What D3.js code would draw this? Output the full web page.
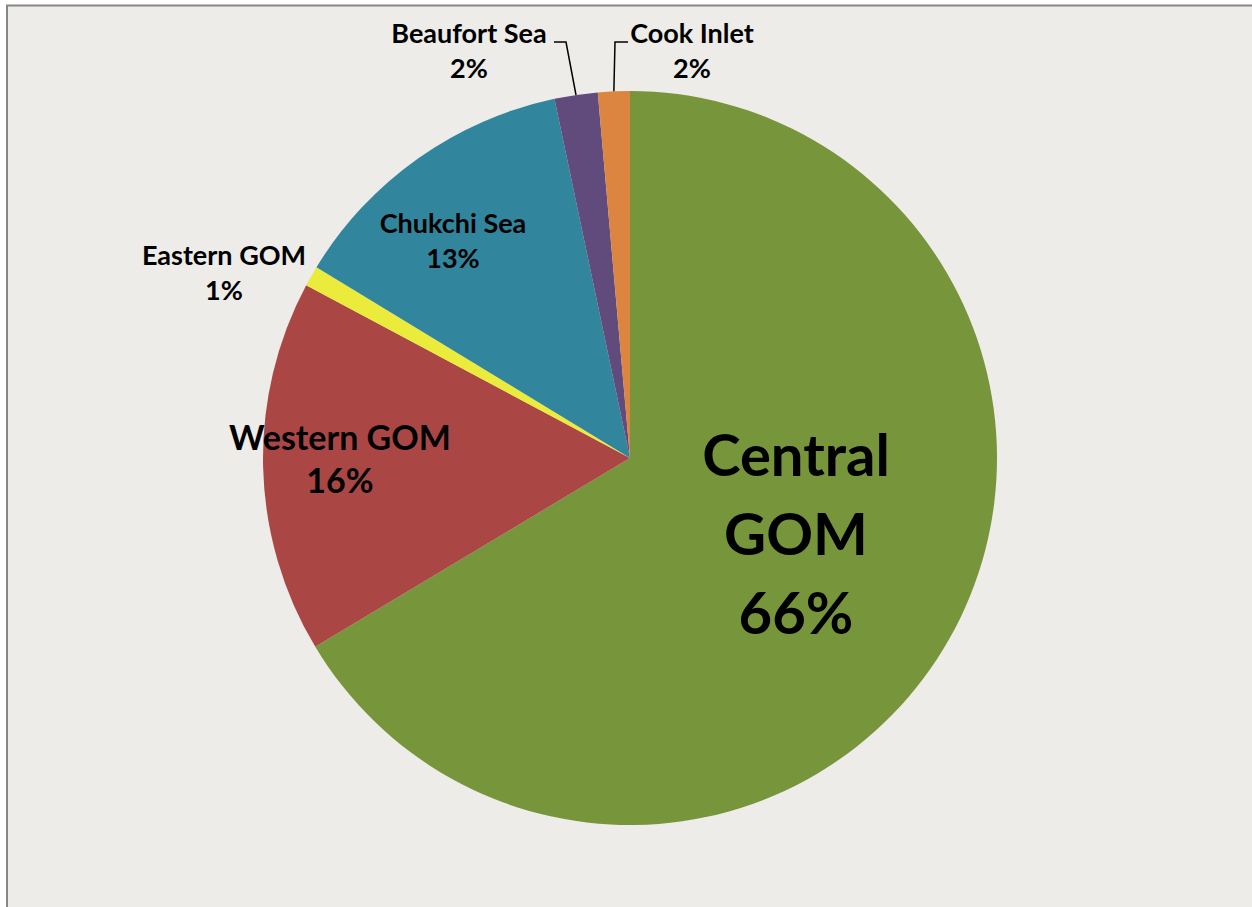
<!DOCTYPE html>
<html>
<head>
<meta charset="utf-8">
<script src="https://cdn.jsdelivr.net/npm/d3@7"></script>
<style>
    body { margin: 0; background: #fff; }
    text { font-family: Lato, "Open Sans", sans-serif; font-weight: bold; fill: #000; }
</style>
</head>
<body>
<div class="chart"></div>
<script>
// shares (percent)
var regions = ["Central GOM", "Western GOM", "Eastern GOM", "Chukchi Sea", "Beaufort Sea", "Cook Inlet"];
var shares = [66.4, 16.4, 0.9, 13.0, 1.9, 1.4];
var pctLabels = ["66%", "16%", "1%", "13%", "2%", "2%"];
var colors = ["#77953B", "#AA4745", "#EBEB3B", "#31869D", "#614B7C", "#DC8541"];

var width = 1252, height = 907;
var cx = 630, cy = 458, radius = 367;

// label layout: centre x, first baseline y, line step, font size, text lines
var labelLayout = [
    {x: 796, y: 476, step: 79, size: 58, lines: ["Central", "GOM", "66%"]},
    {x: 340, y: 450, step: 43, size: 34, lines: ["Western GOM", "16%"]},
    {x: 224, y: 265, step: 35, size: 27, lines: ["Eastern GOM", "1%"]},
    {x: 453, y: 233, step: 35, size: 27, lines: ["Chukchi Sea", "13%"]},
    {x: 469, y: 43, step: 35, size: 27, lines: ["Beaufort Sea", "2%"]},
    {x: 692, y: 43, step: 35, size: 27, lines: ["Cook Inlet", "2%"]}
];
// leader lines: elbow point and end of the short horizontal stub
var leaders = {
    4: {elbow: [566, 42], end: [554, 42]},
    5: {elbow: [615, 42], end: [628, 42]}
};

var svg = d3.select(".chart").append("svg")
    .attr("width", width)
    .attr("height", height);

svg.append("rect")
    .attr("x", 7)
    .attr("y", 5.5)
    .attr("width", width + 10)
    .attr("height", height + 10)
    .attr("fill", "#EDECE8")
    .attr("stroke", "#868686")
    .attr("stroke-width", 2);

var data = regions.map(function(r, i) {
    return {name: r, value: shares[i], pct: pctLabels[i], color: colors[i]};
});

var pie = d3.pie()
    .sort(null)
    .value(function(d) { return d.value; });

var arc = d3.arc()
    .innerRadius(0)
    .outerRadius(radius);

var arcs = pie(data);

var g = svg.append("g")
    .attr("transform", "translate(" + cx + "," + cy + ")");

g.selectAll("path.slice")
    .data(arcs)
    .enter().append("path")
    .attr("class", "slice")
    .attr("d", arc)
    .attr("fill", function(d) { return d.data.color; });

// leader lines from slice mid-angle at the rim
arcs.forEach(function(d, i) {
    if (!leaders[i]) return;
    var a = (d.startAngle + d.endAngle) / 2;
    var p0 = [cx + radius * Math.sin(a), cy - radius * Math.cos(a)];
    svg.append("polyline")
        .attr("points", [p0, leaders[i].elbow, leaders[i].end].map(function(p) { return p.join(","); }).join(" "))
        .attr("fill", "none")
        .attr("stroke", "#000")
        .attr("stroke-width", 1.5);
});

labelLayout.forEach(function(l) {
    var t = svg.append("text")
        .attr("text-anchor", "middle")
        .style("font-size", l.size + "px");
    l.lines.forEach(function(line, j) {
        t.append("tspan")
            .attr("x", l.x)
            .attr("y", l.y + j * l.step)
            .text(line);
    });
});
</script>
</body>
</html>
